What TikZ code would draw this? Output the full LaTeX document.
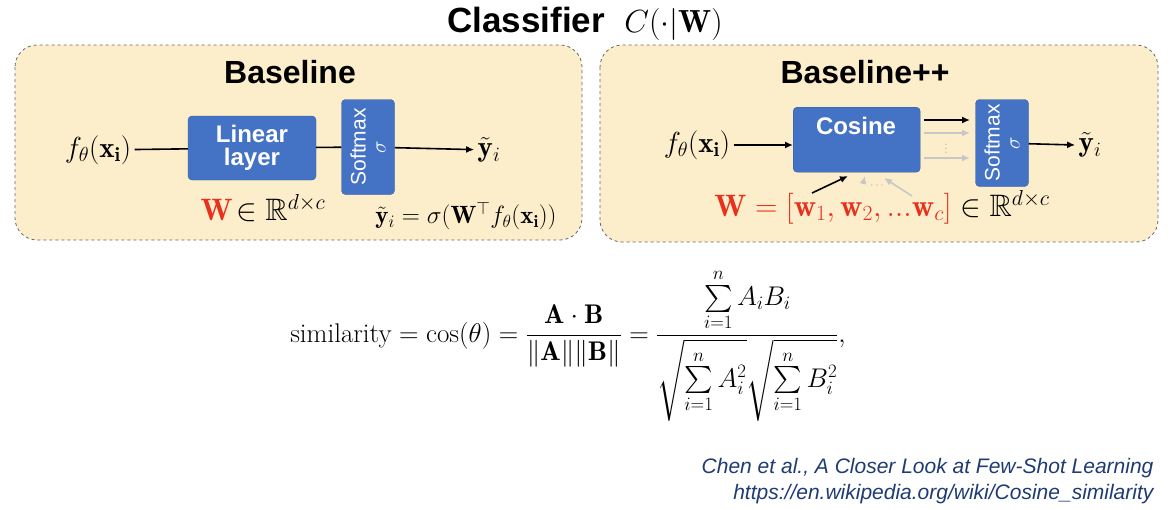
\documentclass[tikz,border=0pt]{standalone}
\usepackage{fix-cm}
\usepackage{amsmath,amssymb}
\usepackage{fontspec}
\setsansfont{Liberation Sans}
\usetikzlibrary{arrows.meta}
\definecolor{panel}{HTML}{FCEECB}
\definecolor{blk}{HTML}{4472C4}
\definecolor{wred}{HTML}{E8301C}
\definecolor{navy}{HTML}{1F3B73}
\tikzset{
 panelbox/.style={draw=black!60,dashed,fill=panel,rounded corners=22pt,line width=0.8pt},
 bluebox/.style={draw=blk!80!black,fill=blk,rounded corners=4pt,text=white,font=\sffamily\bfseries\fontsize{24}{26}\selectfont,align=center},
 arr/.style={-{Latex[length=8pt,width=7pt]},line width=1.6pt},
 garr/.style={-{Latex[length=8pt,width=7pt]},line width=1.6pt,draw=black!22},
 head/.style={font=\sffamily\bfseries\fontsize{32}{34}\selectfont},
 mt/.style={font=\fontsize{29}{31}\selectfont},
 smtxt/.style={rotate=90,text=white,font=\sffamily\fontsize{21}{22}\selectfont,align=center},
}
\begin{document}
\begin{tikzpicture}[x=1pt,y=-1pt]
\useasboundingbox (0,0) rectangle (1170,509);
\node[font=\sffamily\bfseries\fontsize{35}{37}\selectfont] (title) at (585,24) {Classifier \ \fontsize{32}{34}\selectfont$C(\cdot|\mathbf{W})$};
% left panel
\draw[panelbox] (15,45) rectangle (582,240);
\node[head] (bl) at (290,72) {Baseline};
\node[mt] (fl) at (98,150) {$f_\theta(\mathbf{x_i})$};
\node[bluebox,minimum width=128pt,minimum height=64pt] (lin) at (252,148) {Linear\\[-3pt]layer};
\node[bluebox,minimum width=53pt,minimum height=95pt] (smL) at (368,147) {};
\node[smtxt] (smLt) at (368,147) {Softmax\\[-2pt]$\sigma$};
\node[mt] (yl) at (489,150) {$\tilde{\mathbf{y}}_i$};
\draw[line width=1.6pt] (fl) -- (lin);
\draw[line width=1.6pt] (lin) -- (smL);
\draw[arr] (smL) -- (yl);
\node[font=\fontsize{31}{33}\selectfont] (wl) at (263,208) {$\color{wred}\mathbf{W}\!\color{black}\in\mathbb{R}^{d\times c}$};
\node[font=\fontsize{25}{27}\selectfont] (fml) at (466,216) {$\tilde{\mathbf{y}}_i=\sigma(\mathbf{W}^{\top}f_\theta(\mathbf{x_i}))$};
% right panel
\draw[panelbox] (600,45) rectangle (1158,242);
\node[head] (blp) at (865,72) {Baseline++};
\node[mt] (fr) at (697,145) {$f_\theta(\mathbf{x_i})$};
\node[bluebox,minimum width=127pt,minimum height=65pt,anchor=north west] (cos) at (793,107) {};
\node[text=white,font=\sffamily\bfseries\fontsize{24}{26}\selectfont] (cost) at (856,126) {Cosine};
\node[bluebox,minimum width=53pt,minimum height=87pt] (smR) at (1002,143) {};
\node[smtxt] (smRt) at (1002,143) {Softmax\\[-2pt]$\sigma$};
\node[mt] (yr) at (1090,145) {$\tilde{\mathbf{y}}_i$};
\draw[arr] (fr) -- (cos.west|-fr);
\draw[arr] (924,120) -- (970,120);
\draw[garr] (924,133) -- (970,133);
\draw[garr] (924,158) -- (970,158);
\node[text=black!30,font=\fontsize{14}{14}\selectfont] (vd) at (946,146) {$\vdots$};
\draw[arr] (smR) -- (yr.west);
\node[font=\fontsize{31}{33}\selectfont] (wr) at (882,207) {$\color{wred}\mathbf{W}=[\mathbf{w}_1,\mathbf{w}_2,...\mathbf{w}_c]\color{black}\in\mathbb{R}^{d\times c}$};
\coordinate (a1) at (812,193); \coordinate (a2) at (863,184); \coordinate (a3) at (912,196);
\draw[arr] (a1) -- (848,176);
\draw[garr] (a2) -- (865,176);
\draw[garr] (a3) -- (884,178);
\node[text=black!30,font=\fontsize{12}{12}\selectfont] (hd) at (878,186) {$\cdots$};
% similarity
\node[font=\fontsize{27}{29}\selectfont] (sim) at (568,345) {$\displaystyle \text{similarity}=\cos(\theta)=\frac{\mathbf{A}\cdot\mathbf{B}}{\|\mathbf{A}\|\|\mathbf{B}\|}=\frac{\sum\limits_{i=1}^{n}A_iB_i}{\sqrt{\sum\limits_{i=1}^{n}A_i^2}\sqrt{\sum\limits_{i=1}^{n}B_i^2}},$};
% citation
\node[anchor=east,text=navy,font=\sffamily\itshape\fontsize{21}{23}\selectfont] (c1) at (1157,468) {Chen et al., A Closer Look at Few-Shot Learning};
\node[anchor=east,text=navy,font=\sffamily\itshape\fontsize{21}{23}\selectfont] (c2) at (1157,494) {https://en.wikipedia.org/wiki/Cosine\_similarity};
\end{tikzpicture}
\end{document}
